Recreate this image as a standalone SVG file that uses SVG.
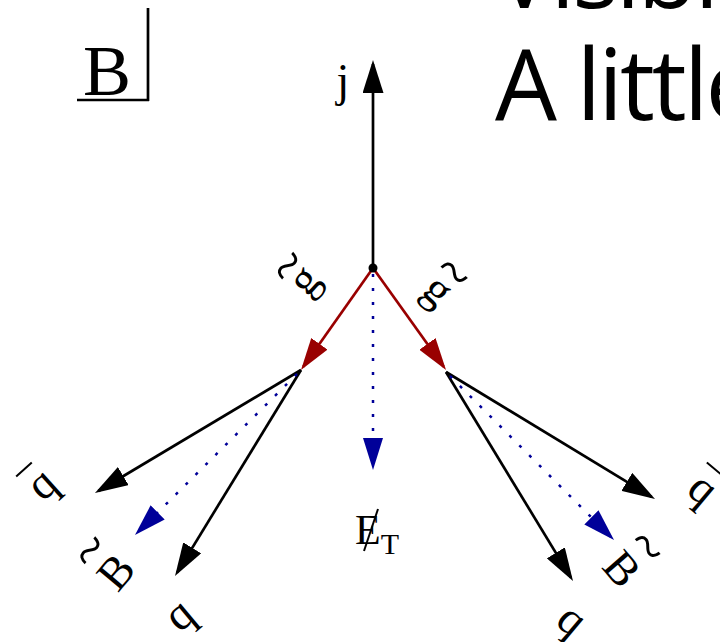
<svg xmlns="http://www.w3.org/2000/svg" width="720" height="642" viewBox="0 0 720 642">
<style>
.lbl{font-family:"Liberation Serif","Times New Roman",serif;font-size:46px;fill:#000}
.tl{font-family:"Liberation Serif","Times New Roman",serif;font-size:58px;fill:#000}
.big{font-family:"Open Sans","Liberation Sans",sans-serif;font-size:98px;letter-spacing:-3px;fill:#000}
.blk{stroke:#000;stroke-width:2.7;fill:none}
.red{stroke:#990000;stroke-width:2.7;fill:none}
.blu{stroke:#000099;stroke-width:2.5;fill:none;stroke-dasharray:3 11}
.bar{stroke:#000;stroke-width:2}
</style>
<defs>
<marker id="ah-black" markerUnits="userSpaceOnUse" viewBox="0 0 33 21" markerWidth="33" markerHeight="21" refX="29" refY="10.5" orient="auto"><path d="M0,0 L33,10.5 L0,21 Z" fill="#000"/></marker>
<marker id="ah-red" markerUnits="userSpaceOnUse" viewBox="0 0 32 20" markerWidth="32" markerHeight="20" refX="28" refY="10" orient="auto"><path d="M0,0 L32,10 L0,20 Z" fill="#990000"/></marker>
<marker id="ah-blue" markerUnits="userSpaceOnUse" viewBox="0 0 32 20" markerWidth="32" markerHeight="20" refX="28" refY="10" orient="auto"><path d="M0,0 L32,10 L0,20 Z" fill="#000099"/></marker>
</defs>
<rect width="720" height="642" fill="#fff"/>

<g id="title">
<text class="big" x="495" y="8">Visible</text>
<text class="big" x="495" y="120">A little</text>
</g>

<g id="box-B">
<text class="lbl" x="83" y="95" style="font-size:72px">B</text>
<path d="M77,100 H149 M148,8 V101" class="blk"/>
</g>

<g id="connectors">
<line x1="373" y1="268" x2="373" y2="64" class="blk" marker-end="url(#ah-black)"/>
<line x1="373" y1="268" x2="303.3" y2="366.7" class="red" marker-end="url(#ah-red)"/>
<line x1="373" y1="268" x2="443.7" y2="366.7" class="red" marker-end="url(#ah-red)"/>
<line x1="373" y1="274" x2="373" y2="466" class="blu" marker-end="url(#ah-blue)"/>
<line x1="301" y1="370" x2="98.4" y2="491" class="blk" marker-end="url(#ah-black)"/>
<line x1="301" y1="370" x2="177.1" y2="572.6" class="blk" marker-end="url(#ah-black)"/>
<line x1="297" y1="374" x2="137.8" y2="532.2" class="blu" marker-end="url(#ah-blue)"/>
<line x1="446" y1="372" x2="651.6" y2="496.9" class="blk" marker-end="url(#ah-black)"/>
<line x1="446" y1="372" x2="570.9" y2="577.6" class="blk" marker-end="url(#ah-black)"/>
<line x1="450" y1="376" x2="611.2" y2="537.2" class="blu" marker-end="url(#ah-blue)"/>
</g>

<g id="vertex"><circle cx="373" cy="268" r="4.5" fill="#000"/></g>

<g id="label-j"><text class="lbl" x="343" y="96" text-anchor="middle">j</text></g>

<g id="label-gluino-left" transform="translate(311,286) rotate(-49)">
<text class="lbl" x="0" y="5" text-anchor="middle">g</text>
<text class="tl" x="0" y="-12" text-anchor="middle">~</text>
</g>
<g id="label-gluino-right" transform="translate(432,297) rotate(42)">
<text class="lbl" x="0" y="5" text-anchor="middle">g</text>
<text class="tl" x="0" y="-14" text-anchor="middle">~</text>
</g>

<g id="label-qbar-left" transform="translate(48,491) rotate(-42)">
<text class="lbl" x="0" y="5" text-anchor="middle">q</text>
<line x1="-14" y1="-32" x2="7" y2="-32" class="bar"/>
</g>
<g id="label-bino-left" transform="translate(116,572) rotate(-50)">
<text class="lbl" x="0" y="15" text-anchor="middle">B</text>
<text class="tl" x="0" y="-15" text-anchor="middle">~</text>
</g>
<g id="label-q-left" transform="translate(185,622) rotate(-40)">
<text class="lbl" x="0" y="5" text-anchor="middle">q</text>
</g>

<g id="label-qbar-right" transform="translate(697,496) rotate(40)">
<text class="lbl" x="0" y="5" text-anchor="middle">q</text>
<line x1="-14" y1="-32" x2="7" y2="-32" class="bar"/>
</g>
<g id="label-bino-right" transform="translate(622,569) rotate(49)">
<text class="lbl" x="0" y="15" text-anchor="middle">B</text>
<text class="tl" x="0" y="-15" text-anchor="middle">~</text>
</g>
<g id="label-q-right" transform="translate(566,627) rotate(40)">
<text class="lbl" x="0" y="5" text-anchor="middle">q</text>
</g>

<g id="label-met">
<text class="lbl" x="355" y="544" style="font-size:42px">E<tspan dy="10" style="font-size:30px">T</tspan></text>
<line x1="378" y1="509" x2="364" y2="551" class="bar"/>
</g>
</svg>
